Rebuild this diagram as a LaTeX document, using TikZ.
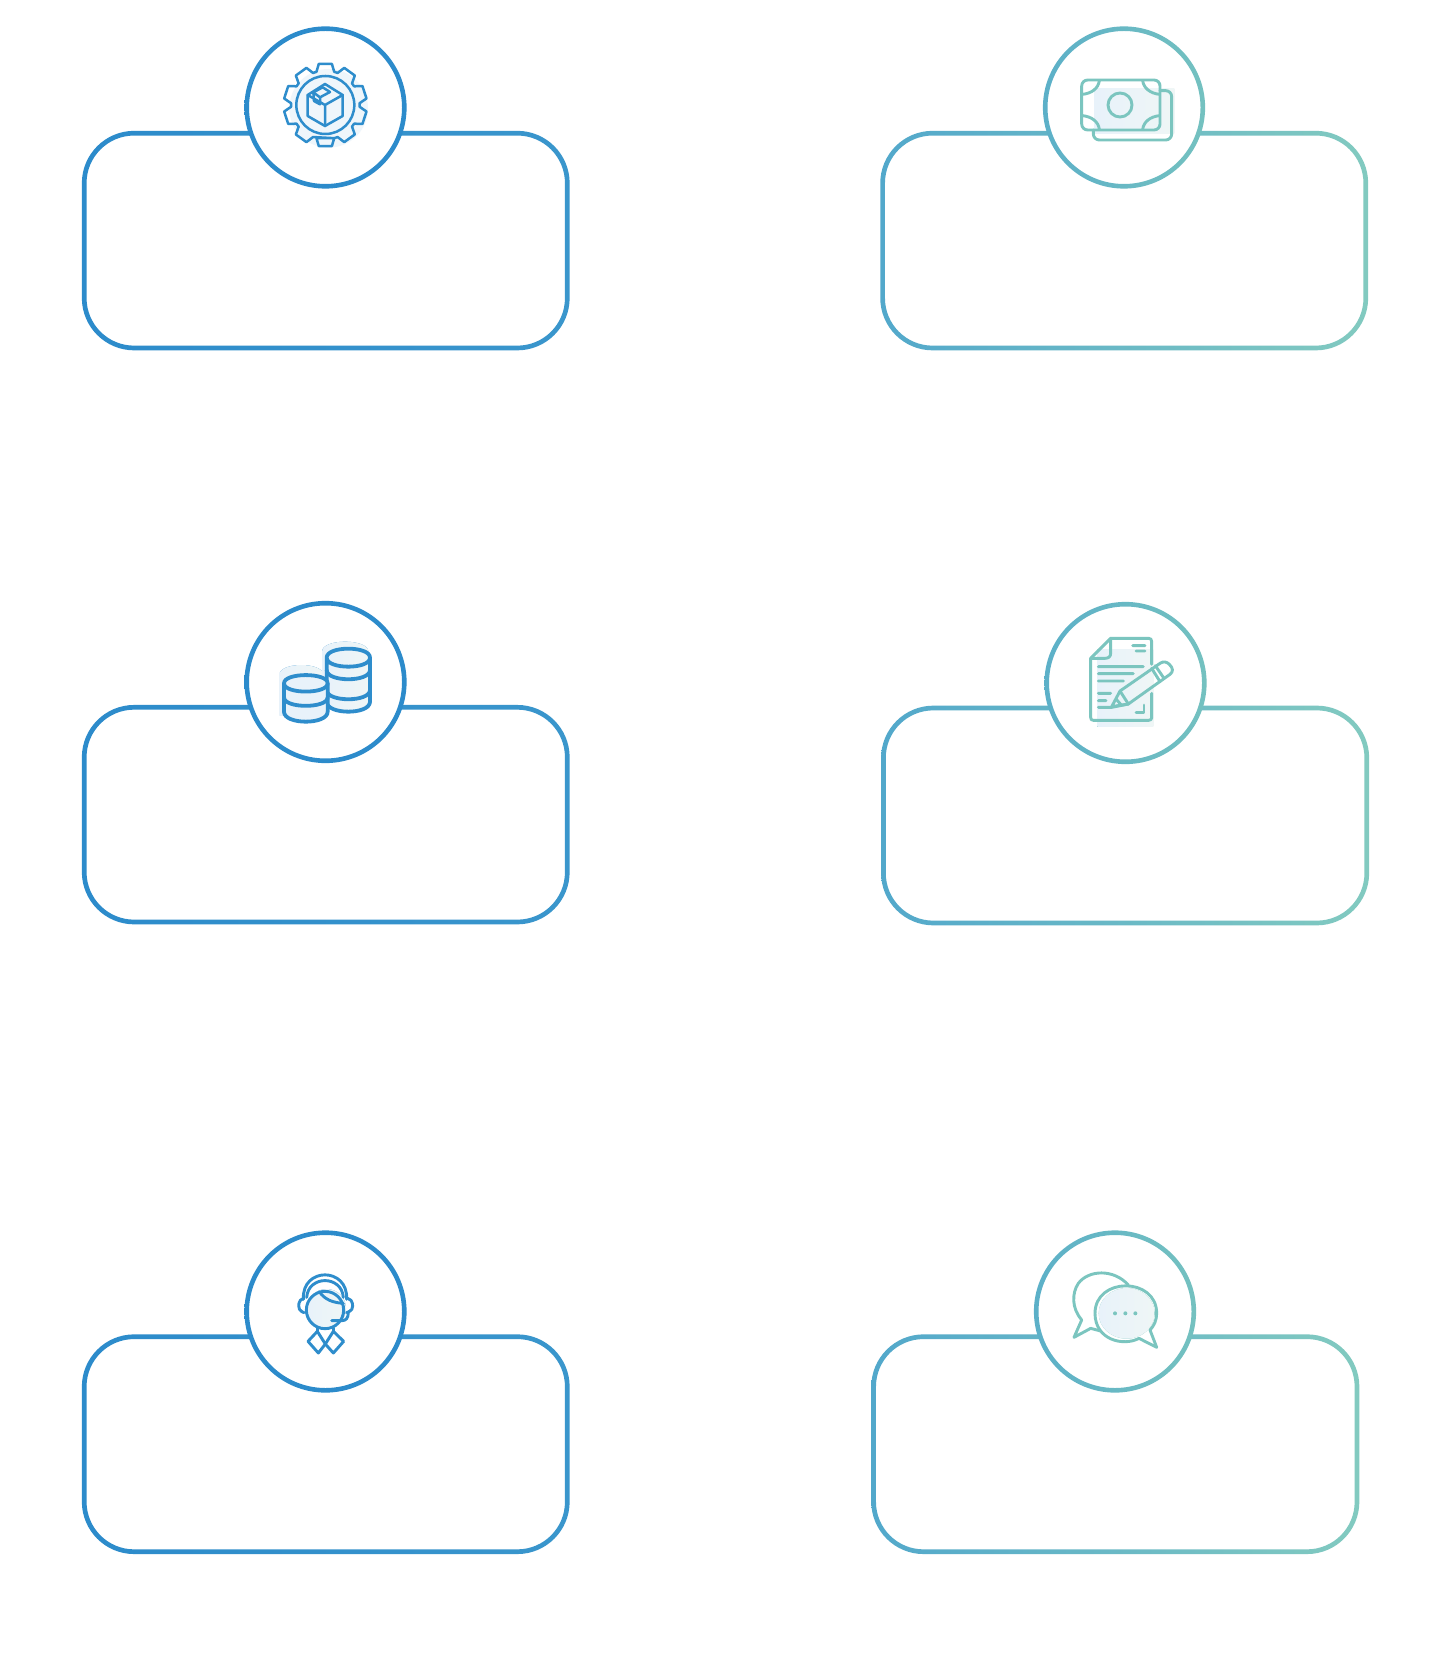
\documentclass[tikz,border=0pt]{standalone}
\usetikzlibrary{shadings}
\definecolor{bluea}{HTML}{2C8BCB}
\definecolor{blueb}{HTML}{3A96CC}
\definecolor{teala}{HTML}{52A8CB}
\definecolor{tealb}{HTML}{82CAC0}
\definecolor{circa}{HTML}{5CB0C8}
\definecolor{circb}{HTML}{74C1C0}
\definecolor{iconblue}{HTML}{2E8DCC}
\definecolor{iconteal}{HTML}{7BC5BF}
\definecolor{palea}{HTML}{E8F2FA}
\definecolor{paleb}{HTML}{EFF6F6}
\tikzset{
  iconline/.style={line width=1.45pt,line join=round,line cap=round},
  gearline/.style={line width=1.25pt,line join=round,line cap=round},
  coinline/.style={line width=1.9pt,line join=round,line cap=round},
  zoomunits/.style={x=0.166667pt,y=-0.166667pt},
  pale/.style={left color=palea,right color=paleb,draw=none}
}
% ring box: left top right bottom colA colB
\newcommand{\ringbox}[6]{%
  \path[even odd rule,left color=#5,right color=#6]
    [rounded corners=26.2pt] (#1-2.35,#2-2.35) rectangle (#3+2.35,#4+2.35)
    [rounded corners=23.8pt] (#1+2.35,#2+2.35) rectangle (#3-2.35,#4-2.35);}
% ring circle: name x y colA colB
\newcommand{\ringcirc}[5]{%
  \node[circle,fill=white,inner sep=0pt,minimum size=78pt] (#1) at (#2,#3) {};
  \path[even odd rule,left color=#4,right color=#5]
    (#2,#3) circle (81.1) (#2,#3) circle (76.5);}
\begin{document}
\begin{tikzpicture}[x=0.5pt,y=-0.5pt]
\useasboundingbox (0,0) rectangle (1450,1673);
\fill[white] (0,0) rectangle (1450,1673);

% boxes
\ringbox{84.2}{133.2}{567.3}{348}{bluea}{blueb}
\ringbox{882.6}{133.2}{1365.8}{348}{teala}{tealb}
\ringbox{84.2}{707.3}{567.3}{922}{bluea}{blueb}
\ringbox{883.4}{708}{1366.8}{923}{teala}{tealb}
\ringbox{84.2}{1336.7}{567.3}{1551.7}{bluea}{blueb}
\ringbox{873.6}{1336.7}{1357}{1551.7}{teala}{tealb}

% circles
\ringcirc{c1}{325.5}{107.5}{bluea}{bluea}
\ringcirc{c2}{1124}{107.5}{circa}{circb}
\ringcirc{c3}{325.5}{682}{bluea}{bluea}
\ringcirc{c4}{1125.5}{683}{circa}{circb}
\ringcirc{c5}{325.5}{1311.5}{bluea}{bluea}
\ringcirc{c6}{1115}{1311.5}{circa}{circb}

% ---- gear and parcel
\begin{scope}[shift={(260,40)},zoomunits]
  \fill[palea!70!white] (206,205) circle (118);
  \begin{scope}[shift={(196,195)}]
    \draw[iconblue,gearline]
      (75:103) \foreach \a in {90,54,18,-18,-54,-90,-126,-162,-198,-234}
        { -- (\a+15:103) -- (\a+9:125) -- (\a-9:125) -- (\a-15:103) } -- cycle;
    \draw[iconblue,gearline] (0,0) circle (87);
  \end{scope}
  \draw[iconblue,gearline] (195,132) -- (248,165) -- (248,228) -- (195,258) -- (143,228) -- (143,165) -- cycle;
  \draw[iconblue,gearline] (143,165) -- (195,195) -- (248,165) (195,195) -- (195,258);
  \draw[iconblue,gearline] (160,157) -- (162,183) -- (180,193) -- (180,172) -- cycle;
  \draw[iconblue,gearline] (160,157) -- (188,142) -- (210,156) -- (180,172);
\end{scope}

% ---- banknotes
\begin{scope}[shift={(1060,50)},zoomunits,iconteal]
  \fill[pale] (103,115) rectangle (343,250);
  \draw[iconline,rounded corners=3pt] (300,122) -- (335,122) -- (335,270) -- (100,270) -- (100,240);
  \draw[iconline,rounded corners=3pt] (65,90) rectangle (300,240);
  \draw[iconline] (180,165) circle (36);
  \draw[iconline] (118,92) .. controls (115,115) and (95,130) .. (68,133);
  \draw[iconline] (248,92) .. controls (251,115) and (271,130) .. (298,133);
  \draw[iconline] (118,238) .. controls (115,215) and (95,200) .. (68,197);
  \draw[iconline] (248,238) .. controls (251,215) and (271,200) .. (298,197);
\end{scope}

% ---- coin stacks
\begin{scope}[shift={(260,620)},zoomunits,iconblue]
  \fill[pale] (58,165) .. controls (58,125) and (190,125) .. (190,165) -- (190,285) -- (58,285) -- cycle;
  \fill[pale] (186,95) .. controls (186,55) and (325,55) .. (325,95) -- (325,265) -- (186,265) -- cycle;
  \fill[pale] (200,113) .. controls (200,77) and (330,77) .. (330,113) -- (330,245)
    .. controls (330,285) and (200,285) .. (200,245) -- cycle;
  \draw[iconblue,coinline]
    (200,113) .. controls (200,77) and (330,77) .. (330,113)
    .. controls (330,149) and (200,149) .. (200,113) -- (200,245)
    .. controls (200,285) and (330,285) .. (330,245) -- (330,113);
  \draw[iconblue,coinline]
    (200,150) .. controls (200,187) and (330,187) .. (330,150)
    (200,210) .. controls (200,247) and (330,247) .. (330,210);
  \draw[iconblue,coinline,fill=palea]
    (72,190) .. controls (72,157) and (203,157) .. (203,190)
    -- (203,275) .. controls (203,315) and (72,315) .. (72,275) -- cycle;
  \draw[iconblue,coinline]
    (72,190) .. controls (72,223) and (203,223) .. (203,190)
    (72,232) .. controls (72,266) and (203,266) .. (203,232);
\end{scope}

% ---- document and pencil
\begin{scope}[shift={(1070,625)},zoomunits,iconteal]
  \fill[pale] (82,72) rectangle (250,305);
  \draw[iconline] (245,118) -- (245,50) .. controls (245,43) and (242,40) .. (236,40) -- (122,40) -- (62,100) -- (62,278)
    .. controls (62,283) and (65,286) .. (70,286) -- (236,286) .. controls (242,286) and (245,283) .. (245,278) -- (245,205);
  \draw[iconline] (122,40) -- (122,85) .. controls (122,95) and (115,100) .. (105,100) -- (62,100);
  \draw[iconline] (188,62) -- (225,62) (198,78) -- (225,78)
    (85,125) -- (220,125) (85,146) -- (190,146) (85,168) -- (160,168)
    (85,205) -- (122,205) (85,227) -- (108,227) (85,247) -- (125,247) -- (175,237);
  \draw[iconline] (198,263) -- (222,263) -- (222,240);
  \draw[iconline] (125,245) -- (150,198) -- (270,115) .. controls (280,108) and (290,110) .. (298,118)
    .. controls (310,130) and (310,140) .. (300,148) -- (175,237) -- cycle;
  \draw[iconline] (150,198) -- (175,237) (245,130) -- (270,170) (256,122) -- (282,160) (138,222) -- (152,238);
\end{scope}

% ---- headset person
\begin{scope}[shift={(280,1260)},zoomunits,iconblue]
  \fill[pale] (140,145) circle (58);
  \draw[iconline] (135,150) circle (56);
  \draw[iconline] (70,118) .. controls (65,20) and (205,20) .. (200,118);
  \draw[iconline] (80,112) .. controls (85,45) and (185,45) .. (190,112);
  \draw[iconline] (118,95) .. controls (135,120) and (160,128) .. (190,130);
  \draw[iconline,rounded corners=2pt] (72,115) -- (58,118) -- (55,150) -- (72,158);
  \draw[iconline,rounded corners=2pt] (200,115) -- (216,118) -- (219,150) -- (200,158);
  \draw[iconline] (205,155) .. controls (205,175) and (198,182) .. (185,182) -- (155,182);
  \draw[iconline] (112,204) -- (112,214) (160,204) -- (160,214);
  \draw[iconline] (112,214) -- (84,244) -- (115,279) -- (136,252) -- cycle;
  \draw[iconline] (160,214) -- (191,244) -- (160,279) -- (136,252) -- cycle;
\end{scope}

% ---- chat bubbles
\begin{scope}[shift={(1060,1260)},zoomunits,iconteal]
  \draw[iconline] (205,75) .. controls (160,25) and (85,30) .. (55,70)
    .. controls (35,100) and (35,145) .. (65,180) -- (42,232) -- (92,205) -- (122,213);
  \fill[pale] (200,160) ellipse [x radius=84,y radius=76];
  \draw[iconline] (270,210) -- (290,262) -- (237,235)
    .. controls (190,260) and (105,240) .. (105,160)
    .. controls (105,50) and (290,50) .. (290,160)
    .. controls (290,180) and (282,198) .. (270,210) -- cycle;
  \fill (165,160) circle (6) (196,160) circle (6) (226,160) circle (6);
\end{scope}
\end{tikzpicture}
\end{document}
